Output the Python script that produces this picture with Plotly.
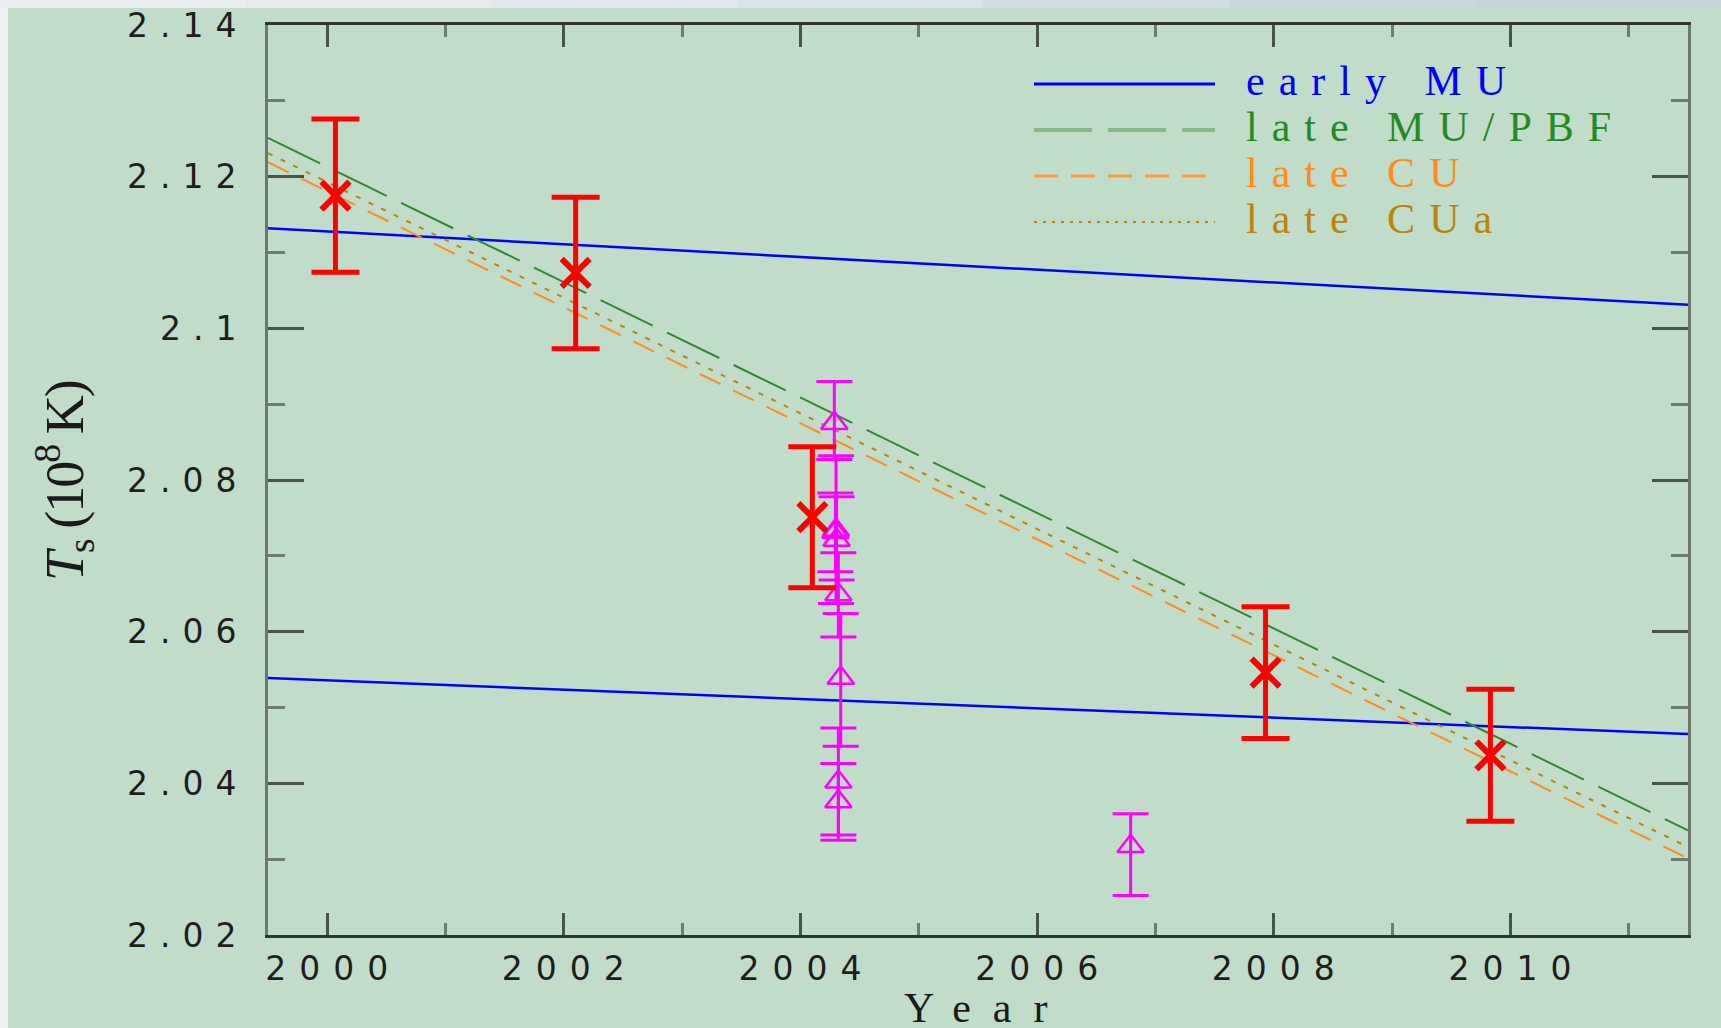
import plotly.graph_objects as go

# ---------------- data ----------------
# straight-line fits, evaluated at the two ends of the year axis
fit_years = [1999.5, 2011.5]
early_mu_hi = [2.1132, 2.1031]
early_mu_lo = [2.0539, 2.0465]
late_mu_pbf = [2.1251, 2.0338]
late_cu = [2.1219, 2.0301]
late_cua = [2.1231, 2.0316]

# red crosses with symmetric error bars
red_year = [2000.07, 2002.10, 2004.10, 2007.93, 2009.83]
red_ts = [2.1175, 2.1073, 2.0751, 2.0546, 2.0437]
red_err = [0.0101, 0.0100, 0.0093, 0.0087, 0.0087]

# magenta triangles with asymmetric error bars
tri_year = [2004.286, 2004.295, 2004.300, 2004.305, 2004.320, 2004.340, 2004.320, 2004.320, 2006.790]
tri_ts = [2.0875, 2.0731, 2.0734, 2.0721, 2.0649, 2.0539, 2.0402, 2.0376, 2.0317]
tri_err_up = [0.0055, 0.0052, 0.0098, 0.0057, 0.0055, 0.0085, 0.0071, 0.0050, 0.0043]
tri_err_dn = [0.0048, 0.0052, 0.0097, 0.0053, 0.0056, 0.0090, 0.0070, 0.0051, 0.0065]

# axes
year_ticks = [2000, 2002, 2004, 2006, 2008, 2010]
year_tick_text = ["2000", "2002", "2004", "2006", "2008", "2010"]
ts_ticks = [2.02, 2.04, 2.06, 2.08, 2.10, 2.12, 2.14]
ts_tick_text = ["2.02", "2.04", "2.06", "2.08", "2.1", "2.12", "2.14"]
x_range = [1999.5, 2011.5]
y_range = [2.02, 2.14]

legend_names = ["early MU", "late MU/PBF", "late CU", "late CUa"]

# ---------------- styling ----------------
BG = "#c2dcca"
BLUE = "#0000ff"
GREEN = "#2f8a2f"
ORANGE = "#ff8c1e"
GOLD = "#b8860b"
RED = "#ff0000"
MAGENTA = "#ff00ff"

W, H = 1721, 1028
L, R, T, B = 268, 33, 25, 93
PW, PH = W - L - R, H - T - B


def px_x(px):
    return (px - L) / PW


def px_y(py):
    return (T + PH - py) / PH


def spaced(text, ls):
    return f"<span style='letter-spacing:{ls}px'>{text}</span>"


fig = go.Figure()

line_specs = [
    (early_mu_hi, BLUE, "solid", 2.5),
    (early_mu_lo, BLUE, "solid", 2.5),
    (late_mu_pbf, GREEN, "58px,16px", 2),
    (late_cu, ORANGE, "23px,14px", 2),
    (late_cua, GOLD, "5px,9px", 2),
]
for vals, col, dash, w in line_specs:
    fig.add_trace(go.Scatter(
        x=fit_years, y=vals, mode="lines",
        line=dict(color=col, width=w, dash=dash),
        hoverinfo="skip",
    ))

fig.add_trace(go.Scatter(
    x=tri_year, y=tri_ts, mode="markers",
    marker=dict(symbol="triangle-up-open", size=23, color=MAGENTA,
                line=dict(color=MAGENTA, width=2.5)),
    error_y=dict(type="data", symmetric=False, array=tri_err_up,
                 arrayminus=tri_err_dn, color=MAGENTA, thickness=3, width=18),
))

fig.add_trace(go.Scatter(
    x=red_year, y=red_ts, mode="markers",
    marker=dict(symbol="x-thin", size=28, color=RED,
                line=dict(color=RED, width=6)),
    error_y=dict(type="data", array=red_err, color=RED, thickness=5, width=24),
))

# ---------------- legend drawn by hand ----------------
legend_rows = [
    (84, BLUE, "solid", 3, BLUE),
    (130, "#86b986", "58px,16px", 4, "#228b22"),
    (176, "#ff9a40", "24px,13px", 3, "#ff8c1a"),
    (222, GOLD, "3px,6px", 2, GOLD),
]
shapes = []
annotations = []
for name, (ypx, lcol, dash, lw, tcol) in zip(legend_names, legend_rows):
    shapes.append(dict(type="line", xref="paper", yref="paper",
                       x0=px_x(1034), x1=px_x(1215), y0=px_y(ypx), y1=px_y(ypx),
                       line=dict(color=lcol, width=lw, dash=dash)))
    annotations.append(dict(xref="paper", yref="paper", x=px_x(1244), y=px_y(ypx - 3),
                            xanchor="left", yanchor="middle", showarrow=False,
                            text=spaced(name, 14),
                            font=dict(family="Liberation Serif", size=42, color=tcol)))

# axis titles
annotations.append(dict(xref="paper", yref="paper", x=px_x(902), y=px_y(1008),
                        xanchor="left", yanchor="middle", showarrow=False,
                        text=spaced("Year", 22),
                        font=dict(family="Liberation Serif", size=42, color="#1a1a1a")))
annotations.append(dict(xref="paper", yref="paper", x=px_x(64), y=px_y(481),
                        xanchor="center", yanchor="middle", showarrow=False,
                        textangle=-90,
                        text=spaced("<i>T</i><sub>s</sub> (10<sup>8</sup> K)", -2),
                        font=dict(family="Liberation Serif", size=54, color="#1a1a1a")))

# thin light frame along the top and left edges of the image
top_cols = ["#eaedef", "#e6eaed", "#e0e7eb", "#d9e3e8", "#d1dde4", "#c9d8e0", "#c3d4dd"]
seg = W / len(top_cols)
for i, c in enumerate(top_cols):
    shapes.append(dict(type="rect", xref="paper", yref="paper", layer="above",
                       x0=px_x(i * seg), x1=px_x((i + 1) * seg + 1),
                       y0=px_y(8), y1=px_y(0), fillcolor=c, line=dict(width=0)))
shapes.append(dict(type="rect", xref="paper", yref="paper", layer="above",
                   x0=px_x(0), x1=px_x(8), y0=px_y(H), y1=px_y(8),
                   fillcolor="#eef1f4", line=dict(width=0)))

tick_font = dict(family="DejaVu Sans", size=33, color="#1e1e1e")

fig.update_layout(
    width=W, height=H,
    margin=dict(l=L, r=R, t=T, b=B, pad=0, autoexpand=False),
    paper_bgcolor=BG, plot_bgcolor=BG,
    showlegend=False,
    shapes=shapes, annotations=annotations,
    xaxis=dict(
        range=x_range, showgrid=False, zeroline=False, automargin=False,
        showline=True, linecolor="#2e362e", linewidth=3, mirror="ticks",
        ticks="inside", ticklen=22, tickwidth=3, tickcolor="#485448",
        tickmode="array", tickvals=year_ticks,
        ticktext=[spaced(t, 13) for t in year_tick_text],
        tickfont=tick_font, ticklabelstandoff=2, ticklabelshift=6,
        minor=dict(tickmode="linear", tick0=1999, dtick=1, ticks="inside",
                   ticklen=12, tickwidth=3, tickcolor="#6f7d6f", showgrid=False),
    ),
    yaxis=dict(
        range=y_range, showgrid=False, zeroline=False, automargin=False,
        showline=True, linecolor="#6b786b", linewidth=3, mirror="ticks",
        ticks="inside", ticklen=36, tickwidth=3, tickcolor="#485448",
        tickmode="array", tickvals=ts_ticks,
        ticktext=[spaced(t, 12) for t in ts_tick_text],
        tickfont=tick_font, ticklabelstandoff=10,
        minor=dict(tickmode="linear", tick0=2.01, dtick=0.01, ticks="inside",
                   ticklen=17, tickwidth=3, tickcolor="#6f7d6f", showgrid=False),
    ),
)

fig.write_html("out.html")
